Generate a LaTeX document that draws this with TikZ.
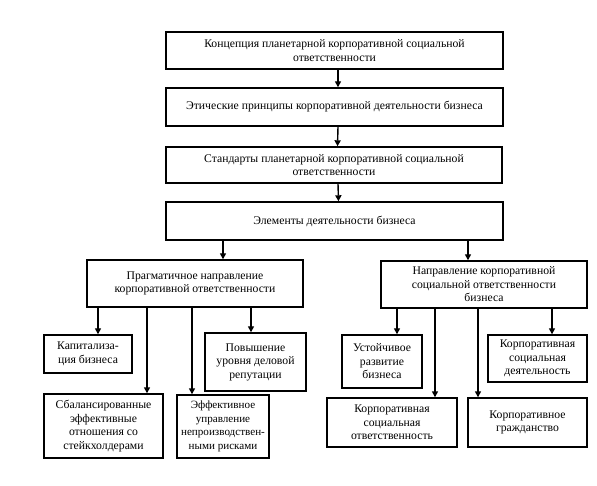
\documentclass[tikz,border=0pt]{standalone}
\usepackage{fontspec}
\setmainfont{Liberation Serif}
\usetikzlibrary{arrows.meta}
\begin{document}
\begin{tikzpicture}[x=1pt,y=-1pt,
  box/.style={draw, line width=1.4pt, align=center, inner sep=0pt,
    font=\fontsize{11.7}{13.5}\selectfont},
  arr/.style={line width=1.4pt, -{Triangle[width=6pt,length=6pt]}}]
\useasboundingbox (0,0) rectangle (597,486);
% top chain
\node[box, minimum width=337pt, minimum height=37pt] (b1) at (334.5,50.5)
  {Концепция планетарной корпоративной социальной\\ответственности};
\node[box, minimum width=337pt, minimum height=38pt] (b2) at (334.5,107)
  {Этические принципы корпоративной деятельности бизнеса};
\node[box, minimum width=336pt, minimum height=36pt] (b3) at (334,165)
  {Стандарты планетарной корпоративной социальной\\ответственности};
\node[box, minimum width=337pt, minimum height=38pt] (b4) at (334.5,221)
  {Элементы деятельности бизнеса};
\draw[arr] ([xshift=3.5pt]b1.south) -- ([xshift=3.5pt]b2.north);
\draw[arr] ([xshift=3.5pt]b2.south) -- ([xshift=3.5pt]b3.north);
\draw[arr] ([xshift=4pt]b3.south) -- ([xshift=4pt]b4.north);
% second level
\node[box, minimum width=216pt, minimum height=47pt] (b5) at (195,283.5)
  {Прагматичное направление\\корпоративной ответственности};
\node[box, minimum width=206pt, minimum height=47pt] (b6) at (484,284.5)
  {Направление корпоративной\\социальной ответственности\\бизнеса};
\coordinate (t5) at ([xshift=28pt]b5.north);
\coordinate (t6) at ([xshift=-16pt]b6.north);
\draw[arr] (b4.south -| t5) -- (t5);
\draw[arr] (b4.south -| t6) -- (t6);
% bottom left
\node[box, minimum width=88pt, minimum height=38pt] (c1) at (88,354)
  {Капитализа-\\ция бизнеса};
\node[box, minimum width=101pt, minimum height=58pt] (c2) at (255.5,362)
  {Повышение\\уровня деловой\\репутации};
\node[box, minimum width=119pt, minimum height=64pt] (c3) at (103.5,426)
  {Сбалансированные\\эффективные\\отношения со\\стейкхолдерами};
\node[box, minimum width=92pt, minimum height=63pt,
  font=\fontsize{11.1}{13.5}\selectfont] (c4) at (223,426.5)
  {Эффективное\\управление\\непроизводствен-\\ными рисками};
\coordinate (u1) at ([xshift=10pt]c1.north);
\coordinate (u2) at ([xshift=-4.5pt]c2.north);
\coordinate (u3) at ([xshift=43.5pt]c3.north);
\coordinate (u4) at ([xshift=-31pt]c4.north);
\draw[arr] (b5.south -| u1) -- (u1);
\draw[arr] (b5.south -| u2) -- (u2);
\draw[arr] (b5.south -| u3) -- (u3);
\draw[arr] (b5.south -| u4) -- (u4);
% bottom right
\node[box, minimum width=80pt, minimum height=53pt] (d1) at (382,361.5)
  {Устойчивое\\развитие\\бизнеса};
\node[box, minimum width=99pt, minimum height=47pt] (d2) at (537.5,358.5)
  {Корпоративная\\социальная\\деятельность};
\node[box, minimum width=130pt, minimum height=49pt] (d3) at (392,422.5)
  {Корпоративная\\социальная\\ответственность};
\node[box, minimum width=119pt, minimum height=49pt] (d4) at (527.5,422.5)
  {Корпоративное\\гражданство};
\coordinate (v1) at ([xshift=15pt]d1.north);
\coordinate (v2) at ([xshift=14.5pt]d2.north);
\coordinate (v3) at ([xshift=43pt]d3.north);
\coordinate (v4) at ([xshift=-49.5pt]d4.north);
\draw[arr] (b6.south -| v1) -- (v1);
\draw[arr] (b6.south -| v2) -- (v2);
\draw[arr] (b6.south -| v3) -- (v3);
\draw[arr] (b6.south -| v4) -- (v4);
\end{tikzpicture}
\end{document}
